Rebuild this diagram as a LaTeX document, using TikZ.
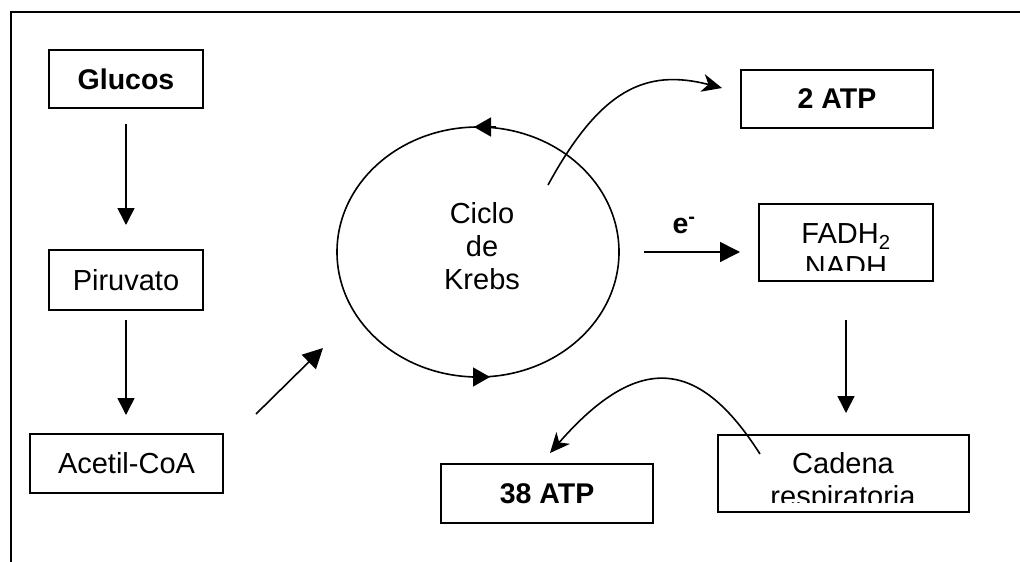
\documentclass[tikz,border=0pt]{standalone}
\usepackage{fontspec}
\setmainfont{Liberation Sans}
\usetikzlibrary{arrows.meta,shapes.geometric}

\begin{document}
\begin{tikzpicture}[x=1pt,y=-1pt,
  box/.style={draw, line width=2pt, rectangle, inner sep=0pt, outer sep=0pt},
  lbl/.style={font=\fontsize{29}{33}\selectfont, inner sep=0pt, align=center},
  blbl/.style={lbl, font=\fontsize{28.5}{33}\selectfont\bfseries},
  tri/.style={line width=1.6pt, -{Triangle[length=17pt,width=17pt]}},
  bigtri/.style={line width=1.6pt, -{Triangle[length=20pt,width=20pt]}},
  circtip/.style={line width=1.6pt, -{Triangle[length=17pt,width=19pt]}},
  curvy/.style={line width=1.6pt, -{Stealth[length=20pt,width=18pt,inset=6pt]}},
]
\useasboundingbox (0,0) rectangle (1020,562);

% frame (top and left edges)
\draw[line width=2pt] (11,562) -- (11,12) -- (1020,12);

% left column
\node[box, blbl, minimum width=154pt, minimum height=58pt] (glu) at (126,79) {Glucos};
\node[box, lbl, minimum width=154pt, minimum height=60pt] (piru) at (126,280) {Piruvato};
\node[box, lbl, minimum width=193pt, minimum height=59pt] (acetil) at (126.5,463.5) {Acetil-CoA};

\draw[tri, shorten <=16pt, shorten >=25pt] (glu.south) -- (glu.south |- piru.north);
\draw[tri, shorten <=10pt, shorten >=19pt] (piru.south) -- (piru.south |- acetil.north);

% Krebs cycle
\node[ellipse, draw, line width=1.6pt, minimum width=282pt, minimum height=250pt,
      inner sep=0pt, outer sep=0pt] (krebs) at (478,252) {};
\node[lbl, anchor=north] (ciclo) at (482,202) {Ciclo\\de\\Krebs};
\draw[circtip] ([xshift=18pt]krebs.north) -- ([xshift=-4pt]krebs.north);
\draw[circtip] ([xshift=-6pt]krebs.south) -- ([xshift=12pt]krebs.south);

\coordinate (a1) at ([shift={(33,-20)}]acetil.north east);
\coordinate (a2) at ([shift={(67,-66)}]a1);
\draw[bigtri] (a1) -- (a2);

% right side
\node[box, blbl, minimum width=192pt, minimum height=58pt] (atp2) at (837,99) {2 ATP};
\node[box, minimum width=174pt, minimum height=77pt] (fadh) at (846,242.5) {};
\node[box, minimum width=251pt, minimum height=77pt] (cadena) at (843.5,473.5) {};
\node[box, blbl, minimum width=212pt, minimum height=59pt] (atp38) at (547,493.5) {38 ATP};

\begin{scope}
  \clip (fadh.north west) rectangle ([yshift=11pt]fadh.south east);
  \node[lbl, anchor=north] (fadhtxt) at (846,223.5) {FADH\textsubscript{2}\\NADH};
\end{scope}
\begin{scope}
  \clip (cadena.north west) rectangle ([yshift=10pt]cadena.south east);
  \node[lbl, anchor=north] (cadtxt) at (843,452) {Cadena\\respiratoria};
\end{scope}

% electron transfer
\draw[bigtri, shorten >=19pt] ([xshift=25pt]krebs.east) -- (krebs.east -| fadh.west);
\node[blbl, anchor=base] (eminus) at (684,233) {e\textsuperscript{-}};

\draw[tri, shorten <=39pt, shorten >=22pt] (fadh.south) -- (fadh.south |- cadena.north);

% curved outputs
\coordinate (k1) at (548,185);
\draw[curvy] (k1) .. controls (600,90) and (645,68) .. ([shift={(-19,-11)}]atp2.west);
\coordinate (c1) at (760,454);
\draw[curvy] (c1) .. controls (700,360) and (640,350) .. ([shift={(3,-11)}]atp38.north);
\end{tikzpicture}
\end{document}
